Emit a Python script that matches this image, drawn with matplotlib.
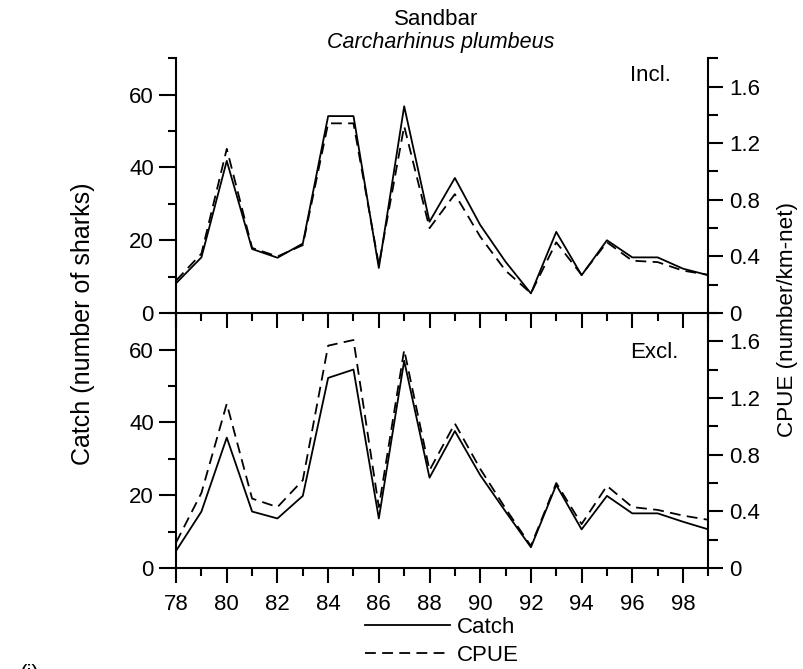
import matplotlib
matplotlib.use("Agg")
import matplotlib.pyplot as plt
from matplotlib.ticker import MultipleLocator, FixedLocator

plt.rcParams['font.family'] = ['Liberation Sans', 'DejaVu Sans']
plt.rcParams['font.size'] = 16

# years (19xx)
years = list(range(78, 100))

# Incl. panel
catch_incl = [8.2, 15.3, 41.8, 17.6, 15.2, 19.1, 54.1, 54.1, 12.4, 56.8, 25.1,
              37.1, 24.2, 14.1, 5.4, 22.3, 10.4, 20.0, 15.3, 15.3, 12.2, 10.4]
cpue_incl = [0.23, 0.42, 1.16, 0.46, 0.40, 0.48, 1.34, 1.34, 0.34, 1.32, 0.60,
             0.84, 0.54, 0.30, 0.14, 0.50, 0.27, 0.50, 0.37, 0.36, 0.30, 0.27]

# Excl. panel
catch_excl = [4.7, 15.5, 35.8, 15.5, 13.6, 19.8, 52.2, 54.5, 13.6, 56.9, 24.8,
              37.6, 25.5, 15.5, 5.7, 22.8, 10.6, 19.8, 15.0, 15.0, 12.7, 10.6]
cpue_excl = [0.18, 0.53, 1.16, 0.49, 0.43, 0.62, 1.57, 1.61, 0.43, 1.54, 0.69,
             1.02, 0.70, 0.42, 0.155, 0.60, 0.31, 0.58, 0.43, 0.41, 0.37, 0.34]

left_ticks = [0, 20, 40, 60]
right_ticks = [0, 0.4, 0.8, 1.2, 1.6]
right_labels = ["0", "0.4", "0.8", "1.2", "1.6"]

fig = plt.figure(figsize=(8.04, 6.69), dpi=100)
ax1 = fig.add_axes([0.219, 0.532, 0.662, 0.381])
ax2 = fig.add_axes([0.219, 0.151, 0.662, 0.381])

dash = (0, (6, 3.5))
lw = 1.3

def style(ax, tw, show_xlabels):
    ax.set_xlim(78, 99)
    ax.set_ylim(0, 70)
    tw.set_ylim(0, 1.8)
    ax.xaxis.set_major_locator(MultipleLocator(2))
    ax.xaxis.set_minor_locator(MultipleLocator(1))
    ax.yaxis.set_major_locator(FixedLocator(left_ticks))
    ax.yaxis.set_minor_locator(MultipleLocator(10))
    tw.yaxis.set_major_locator(FixedLocator(right_ticks))
    tw.yaxis.set_minor_locator(MultipleLocator(0.2))
    tw.set_yticklabels(right_labels)
    for a in (ax, tw):
        a.spines['top'].set_visible(False)
        for s in a.spines.values():
            s.set_linewidth(1.5)
    ax.spines['right'].set_visible(False)
    tw.spines['left'].set_visible(False)
    tw.spines['bottom'].set_visible(False)
    ax.tick_params(which='major', direction='out', length=12, width=1.5, pad=4)
    ax.tick_params(which='minor', direction='out', length=6, width=1.5)
    tw.tick_params(which='major', direction='out', length=11, width=1.5, pad=4)
    tw.tick_params(which='minor', direction='out', length=7, width=1.5)
    ax.tick_params(axis='x', which='major', length=11, pad=8)
    ax.tick_params(axis='x', which='minor', length=6)
    if not show_xlabels:
        ax.tick_params(axis='x', labelbottom=False)
    ax.patch.set_visible(False)

tw1 = ax1.twinx()
tw2 = ax2.twinx()

l1, = ax1.plot(years, catch_incl, color='black', lw=lw)
l2, = tw1.plot(years, cpue_incl, color='black', lw=lw, linestyle=dash)
ax2.plot(years, catch_excl, color='black', lw=lw)
tw2.plot(years, cpue_excl, color='black', lw=lw, linestyle=dash)

style(ax1, tw1, False)
style(ax2, tw2, True)
ax1.set_zorder(2)
tw1.set_zorder(3)

ax1.text(0.93, 0.933, "Incl.", transform=ax1.transAxes, ha='right', va='center')
ax2.text(0.944, 0.847, "Excl.", transform=ax2.transAxes, ha='right', va='center')

fig.text(0.543, 0.971, "Sandbar", ha='center', va='center')
fig.text(0.548, 0.936, "Carcharhinus plumbeus", ha='center', va='center', style='italic',
         fontsize=15.5)
fig.text(0.103, 0.516, "Catch (number of sharks)", rotation=90, ha='center', va='center',
         fontsize=18)
fig.text(0.979, 0.523, "CPUE (number/km-net)", rotation=90, ha='center', va='center',
         fontsize=16.2)

fig.legend([l1, l2], ["Catch", "CPUE"], loc='center', bbox_to_anchor=(0.55, 0.041),
           frameon=False, handlelength=3.8, handletextpad=0.35, labelspacing=0.3,
           borderpad=0)
fig.text(0.025, -0.008, "(i)", ha='left', va='center')

fig.savefig("out.png", dpi=100)
